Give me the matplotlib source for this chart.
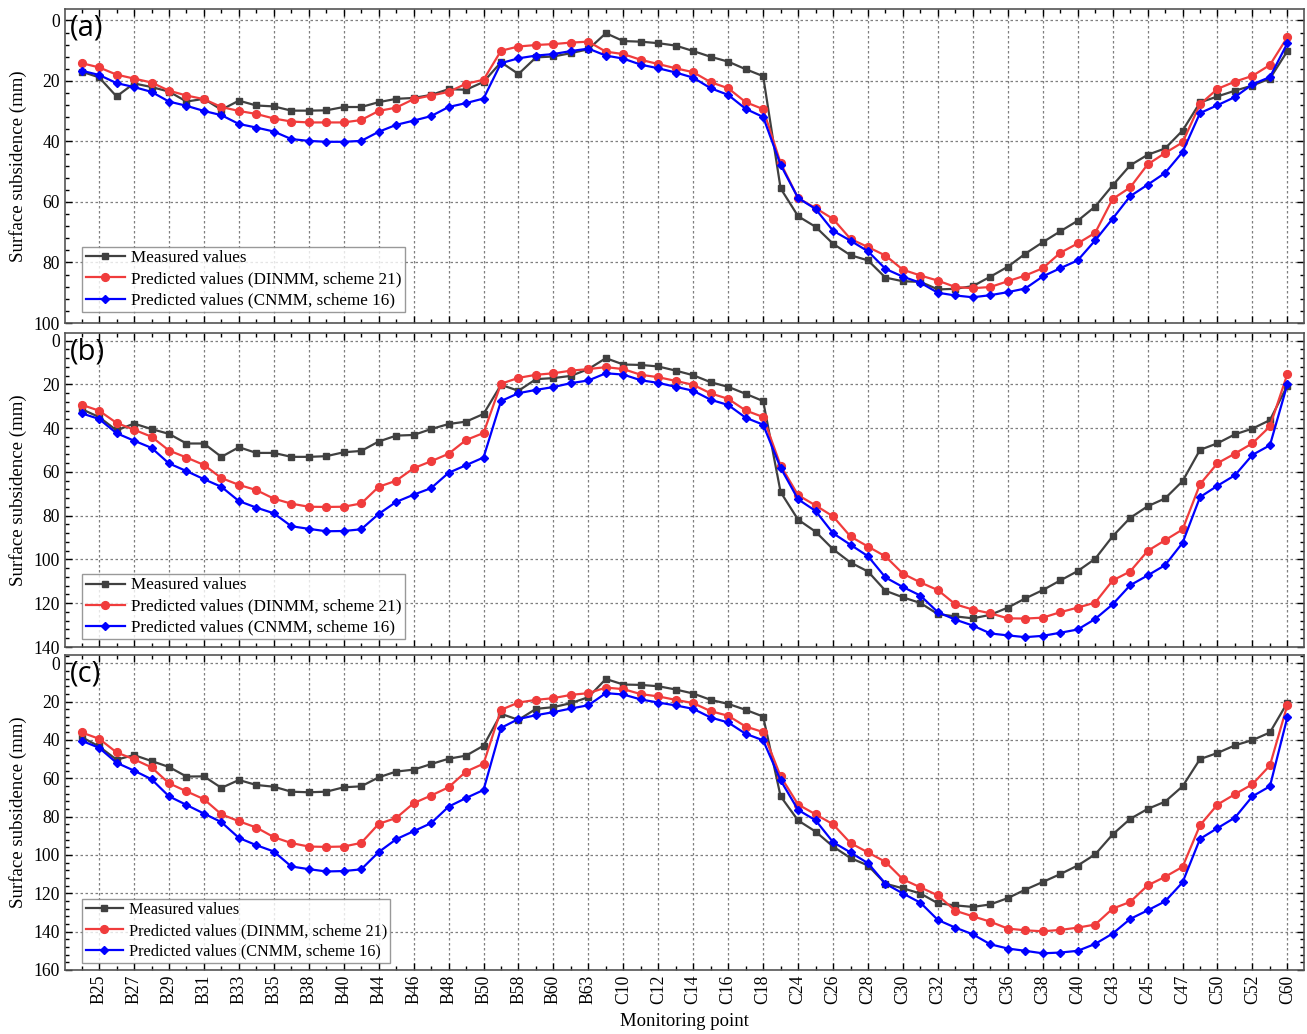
import numpy as np
import matplotlib
matplotlib.use("Agg")
import matplotlib.pyplot as plt
from matplotlib.ticker import AutoMinorLocator, MultipleLocator

# monitoring points, only every second one is labelled on the axis
tick_labels = ["B25", "B27", "B29", "B31", "B33", "B35", "B38", "B40", "B44", "B46",
               "B48", "B50", "B58", "B60", "B63", "C10", "C12", "C14", "C16", "C18",
               "C24", "C26", "C28", "C30", "C32", "C34", "C36", "C38", "C40", "C43",
               "C45", "C47", "C50", "C52", "C60"]

# (a)
measured_a = [16.9, 18.8, 25.1, 20.8, 22.0, 23.5, 26.8, 25.9, 29.5, 26.5,
              28.1, 28.4, 29.8, 29.8, 29.7, 28.6, 28.6, 27.0, 25.9, 25.6,
              24.6, 22.7, 22.9, 20.3, 13.8, 17.7, 12.2, 11.9, 10.8, 9.5,
              4.2, 6.8, 7.0, 7.5, 8.3, 10.1, 12.0, 13.6, 16.1, 18.4,
              55.5, 64.7, 68.2, 73.8, 77.6, 79.3, 85.0, 86.2, 86.4, 88.9,
              88.7, 87.8, 84.7, 81.4, 77.1, 73.3, 69.7, 66.2, 61.5, 54.5,
              47.9, 44.4, 42.3, 36.4, 27.1, 25.1, 23.2, 21.5, 19.2, 10.1]
dinmm_a = [14.1, 15.5, 17.9, 19.2, 20.5, 23.2, 24.8, 26.0, 28.6, 29.9,
           30.9, 32.4, 33.4, 33.7, 33.7, 33.7, 32.9, 29.9, 28.8, 26.0,
           24.8, 23.6, 20.9, 19.6, 10.0, 8.6, 8.1, 7.8, 7.3, 7.0,
           10.3, 11.1, 13.0, 14.4, 15.8, 17.1, 20.4, 22.4, 27.0, 29.3,
           47.1, 58.7, 62.0, 65.6, 72.2, 74.9, 77.7, 82.4, 84.3, 86.0,
           88.1, 88.5, 88.1, 86.2, 84.3, 81.9, 76.8, 73.7, 70.2, 59.0,
           55.2, 47.6, 43.8, 40.3, 27.7, 22.6, 20.2, 18.3, 14.7, 5.5]
cnmm_a = [16.6, 18.0, 20.7, 22.0, 23.6, 26.8, 28.2, 29.9, 31.3, 34.2,
          35.4, 36.7, 39.2, 39.8, 40.1, 40.1, 39.8, 36.8, 34.5, 33.1,
          31.6, 28.6, 27.3, 25.8, 14.1, 12.5, 11.6, 11.1, 10.1, 9.3,
          11.6, 12.6, 14.6, 15.8, 17.2, 18.9, 22.4, 24.6, 29.2, 31.9,
          47.7, 58.7, 62.3, 69.5, 72.8, 76.3, 82.1, 84.7, 86.7, 90.0,
          90.9, 91.5, 90.8, 89.8, 88.6, 84.6, 81.9, 79.3, 72.7, 65.5,
          58.1, 54.3, 50.4, 43.5, 30.6, 28.0, 25.3, 21.1, 18.7, 7.5]

# (b)
measured_b = [31.3, 34.9, 41.0, 37.9, 40.4, 42.6, 47.0, 47.0, 53.1, 48.7,
              51.3, 51.3, 53.1, 53.1, 52.8, 51.0, 50.4, 46.1, 43.4, 43.1,
              40.4, 38.1, 37.0, 33.5, 20.2, 22.9, 17.6, 17.1, 16.1, 13.0,
              8.0, 10.9, 11.1, 11.8, 13.7, 15.8, 19.0, 21.1, 24.3, 27.6,
              69.2, 81.8, 87.3, 95.3, 101.4, 105.5, 114.3, 117.3, 119.9, 125.0,
              126.0, 126.9, 125.3, 122.0, 117.8, 114.0, 109.6, 105.3, 99.7, 89.4,
              81.0, 75.7, 72.1, 64.2, 49.9, 46.9, 42.8, 40.2, 36.3, 20.5]
dinmm_b = [29.3, 32.0, 37.6, 40.7, 43.9, 50.2, 53.4, 56.8, 62.8, 65.9,
           68.3, 72.2, 74.5, 75.9, 76.0, 75.9, 74.4, 66.8, 64.0, 58.3,
           55.1, 51.7, 45.4, 42.2, 19.7, 17.0, 15.6, 14.9, 13.7, 13.0,
           12.1, 13.0, 15.6, 16.7, 18.4, 20.2, 24.1, 26.6, 31.9, 34.9,
           57.1, 70.6, 75.3, 80.3, 89.5, 94.1, 98.6, 106.5, 110.5, 114.0,
           120.5, 122.9, 124.6, 126.9, 127.0, 126.6, 124.1, 122.0, 119.7, 109.6,
           105.5, 96.1, 91.2, 86.3, 65.6, 56.0, 51.6, 46.9, 39.2, 15.2]
cnmm_b = [33.2, 35.8, 42.3, 45.7, 49.0, 56.1, 59.6, 63.3, 66.8, 73.3,
          76.3, 78.9, 84.8, 86.0, 87.1, 87.0, 86.2, 79.2, 73.7, 70.4,
          67.4, 60.4, 56.9, 53.4, 27.6, 24.0, 22.5, 21.2, 19.4, 18.2,
          14.9, 15.5, 18.1, 19.3, 21.1, 22.9, 27.0, 29.4, 35.2, 38.4,
          58.1, 72.5, 77.8, 88.0, 93.3, 98.5, 108.2, 112.6, 116.5, 124.1,
          127.5, 130.2, 133.8, 134.7, 135.5, 134.9, 133.5, 132.0, 127.2, 120.5,
          111.8, 107.3, 102.6, 92.4, 71.5, 66.3, 61.5, 52.2, 47.8, 19.9]

# (c)
measured_c = [38.5, 43.4, 50.3, 47.9, 51.0, 54.1, 59.1, 59.0, 65.0, 60.9,
              63.5, 64.4, 67.0, 67.3, 67.0, 64.7, 64.2, 59.5, 56.5, 55.5,
              52.6, 49.8, 48.2, 43.0, 26.4, 29.5, 23.8, 22.9, 20.8, 17.7,
              8.2, 11.1, 11.3, 12.0, 13.7, 15.8, 19.1, 21.2, 24.3, 27.8,
              69.4, 82.0, 87.8, 95.6, 101.6, 105.5, 115.0, 117.4, 120.1, 125.2,
              126.3, 127.1, 125.8, 122.5, 118.1, 114.1, 110.0, 105.5, 99.7, 89.3,
              81.2, 76.0, 72.2, 64.2, 50.0, 46.8, 42.8, 40.1, 36.1, 20.5]
dinmm_c = [36.1, 39.4, 46.5, 50.1, 54.3, 62.6, 66.8, 70.9, 78.8, 82.4,
           85.7, 90.7, 93.8, 95.6, 95.8, 95.6, 93.7, 83.8, 80.7, 73.0,
           69.0, 64.7, 56.5, 52.4, 24.3, 20.5, 19.1, 18.2, 16.5, 15.6,
           12.7, 13.5, 16.1, 17.3, 19.1, 20.8, 25.0, 27.4, 33.0, 35.9,
           59.0, 73.7, 78.8, 84.0, 93.8, 98.7, 103.6, 112.7, 116.9, 121.1,
           129.1, 132.0, 134.8, 138.4, 139.3, 139.8, 139.1, 137.9, 136.3, 128.0,
           124.5, 115.9, 111.4, 106.2, 84.5, 73.7, 68.3, 63.1, 53.3, 21.7]
cnmm_c = [40.4, 44.1, 51.9, 56.0, 60.5, 69.4, 73.9, 78.4, 82.9, 91.1,
          94.9, 98.2, 106.0, 107.4, 108.6, 108.4, 107.5, 98.5, 91.8, 87.6,
          83.4, 74.8, 70.3, 66.1, 33.7, 29.1, 27.1, 25.5, 23.6, 21.9,
          15.6, 16.3, 18.9, 20.5, 22.0, 23.8, 28.3, 30.9, 36.8, 40.2,
          61.1, 76.5, 81.9, 93.3, 98.7, 104.3, 115.0, 120.1, 124.9, 133.9,
          137.9, 141.4, 146.6, 148.8, 150.0, 151.3, 150.9, 150.0, 146.4, 141.0,
          133.4, 128.9, 124.2, 114.3, 91.6, 86.0, 80.5, 69.4, 64.2, 28.1]

panels = [("(a)", measured_a, dinmm_a, cnmm_a, (100, -3.8), 12.3, 0.035),
          ("(b)", measured_b, dinmm_b, cnmm_b, (140, -3.5), 12.3, 0.025),
          ("(c)", measured_c, dinmm_c, cnmm_c, (160, -4.3), 11.7, 0.022)]

plt.rcParams["font.family"] = ["Liberation Serif", "DejaVu Serif"]

fig = plt.figure(figsize=(13.07, 10.34), dpi=100)
W, H = 1307.0, 1034.0
boxes = [(9, 323), (333, 647), (655, 970)]   # top/bottom of each panel in px
x = np.arange(len(measured_a))
axes = []
for (top, bot) in boxes:
    axes.append(fig.add_axes([65 / W, 1 - bot / H, (1304 - 65) / W, (bot - top) / H]))

for ax, (tag, meas, din, cn, ylim, lfs, ly) in zip(axes, panels):
    ax.plot(x, meas, "-s", color="#404040", lw=1.6, ms=5.0, label="Measured values", zorder=3)
    ax.plot(x, din, "-o", color="#f03c3c", lw=1.6, ms=5.6, label="Predicted values (DINMM, scheme 21)", zorder=4)
    ax.plot(x, cn, "-D", color="#0000ff", lw=1.6, ms=4.4, label="Predicted values (CNMM, scheme 16)", zorder=5)

    ax.set_xlim(-0.95, 69.95)
    ax.set_ylim(*ylim)
    ax.set_xticks(x[1::2])
    ax.set_xticks(x[0::2], minor=True)
    ax.yaxis.set_major_locator(MultipleLocator(20))
    ax.yaxis.set_minor_locator(AutoMinorLocator(5))
    ax.tick_params(which="both", direction="in", top=True, right=True, labelsize=12.7)
    ax.tick_params(which="major", length=5, width=1)
    ax.tick_params(which="minor", length=3, width=1)
    ax.grid(True, which="major", ls=(0, (2, 2)), color="#7f7f7f", lw=0.9)
    for s in ax.spines.values():
        s.set_color("#555555")
        s.set_linewidth(1.2)
    ax.set_ylabel("Surface subsidence (mm)", fontsize=13.6)
    ax.yaxis.set_label_coords(-0.031, 0.5)
    ax.text(0.004, 0.985, tag, transform=ax.transAxes, va="top", ha="left",
            fontsize=21, family="Open Sans", fontweight="medium")
    leg = ax.legend(loc="lower left", bbox_to_anchor=(0.014, ly), fontsize=lfs,
                    frameon=True, fancybox=False, borderpad=0.2, labelspacing=0.3,
                    handlelength=2.3, handletextpad=0.35, borderaxespad=0)
    leg.get_frame().set_edgecolor("#808080")
    leg.get_frame().set_linewidth(1.0)

for ax in axes[:2]:
    ax.tick_params(labelbottom=False)

axes[2].set_xticklabels(tick_labels, rotation=90)
axes[2].set_xlabel("Monitoring point", fontsize=13.5, labelpad=6)

fig.savefig("out.png", dpi=100)
